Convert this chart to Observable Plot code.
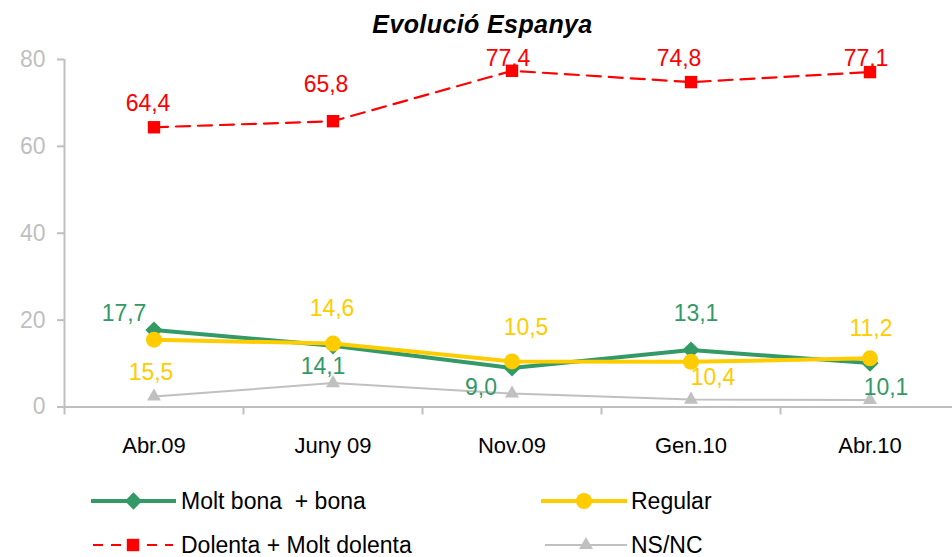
<!DOCTYPE html>
<html>
<head>
<meta charset="utf-8">
<script src="https://cdn.jsdelivr.net/npm/d3@7"></script>
<script src="https://cdn.jsdelivr.net/npm/@observablehq/plot@0.6"></script>
<style>
  html, body { margin: 0; padding: 0; background: #fff; overflow: hidden; }
  #wrap { position: relative; width: 952px; height: 557px; font-family: "Liberation Sans", Arial, sans-serif; }
  #title { position: absolute; left: 0; top: 0; width: 965px; text-align: center; font-weight: bold; font-style: italic; font-size: 25px; letter-spacing: 0.4px; line-height: 48px; color: #000; }
  #chart { position: absolute; left: 0; top: 42px; }
  .lg-text { position: absolute; font-size: 23px; line-height: 30px; color: #000; white-space: pre; }
  .lg-key { position: absolute; }
</style>
</head>
<body>
<div id="wrap">
  <div id="title">Evolució Espanya</div>
  <div id="chart"></div>
</div>
<script>
// ---- data ----
const categories = ["Abr.09", "Juny 09", "Nov.09", "Gen.10", "Abr.10"];
const seriesNames = ["Molt bona  + bona", "Regular", "Dolenta + Molt dolenta", "NS/NC"];
const moltBona = [17.7, 14.1, 9.0, 13.1, 10.1];
const regular = [15.5, 14.6, 10.5, 10.4, 11.2];
const dolenta = [64.4, 65.8, 77.4, 74.8, 77.1];
const nsnc = [2.4, 5.5, 3.1, 1.7, 1.6];
const yTicks = [0, 20, 40, 60, 80];

// ---- styles / layout (not data) ----
const styles = [
  {color: "#339966", width: 4, dash: null, symbol: "diamond2", r: 7.8, labels: true,
   off: [[-30, -16], [-10, 21], [-31, 20], [5, -36], [16, 24]]},
  {color: "#FFCC00", width: 4, dash: null, symbol: "circle", r: 8, labels: true,
   off: [[-3, 33], [-1, -35], [14, -34], [22, 16], [1, -30]]},
  {color: "#FF0000", width: 2.2, dash: "14,8", symbol: "square", r: 7, labels: true,
   off: [[-6, -24], [-7, -37], [-4, -12], [-12, -23], [-4, -13]]},
  {color: "#C0C0C0", width: 2, dash: null, symbol: "triangle", r: 5.2, labels: false, off: []}
];
const allValues = [moltBona, regular, dolenta, nsnc];

const rows = allValues.flatMap((vals, s) => vals.map((v, i) => ({s, i, v, cat: categories[i]})));
const fmt = v => v.toFixed(1).replace(".", ",");

const axisColor = "#bfbfbf";
const boundaries = d3.range(categories.length + 1).map(k => k - 0.5);

const marks = [
  Plot.ruleY([0], {stroke: axisColor, strokeWidth: 2}),
  Plot.ruleX([-0.5], {stroke: axisColor, strokeWidth: 2}),
  Plot.axisY({ticks: yTicks, tickSize: 7, tickPadding: 12, fontSize: 23, fill: axisColor, stroke: axisColor, strokeWidth: 2, label: null}),
  Plot.axisX({ticks: boundaries, tickSize: 8, tickFormat: () => "", stroke: axisColor, strokeWidth: 2, label: null}),
  Plot.axisX({ticks: d3.range(categories.length), tickSize: 0, tickPadding: 30, fontSize: 22, fill: "#000", tickFormat: i => categories[i], label: null})
];

styles.forEach((st, s) => {
  const data = rows.filter(d => d.s === s);
  marks.push(Plot.line(data, {x: "i", y: "v", stroke: st.color, strokeWidth: st.width, strokeDasharray: st.dash}));
  marks.push(Plot.dot(data, {x: "i", y: "v", symbol: () => st.symbol, r: st.r, fill: st.color, stroke: "none"}));
});
styles.forEach((st, s) => {
  if (!st.labels) return;
  rows.filter(d => d.s === s).forEach((d, k) => {
    marks.push(Plot.text([d], {x: "i", y: "v", text: d => fmt(d.v), fill: st.color, fontSize: 23,
      dx: st.off[k][0], dy: st.off[k][1]}));
  });
});

const chart = Plot.plot({
  width: 952,
  height: 428,
  marginLeft: 64,
  marginRight: -7,
  marginTop: 17,
  marginBottom: 63.5,
  x: {type: "linear", domain: [-0.5, categories.length - 0.5], range: [64, 959]},
  y: {domain: [0, 80]},
  symbol: {type: "identity"},
  style: {fontFamily: "'Liberation Sans', Arial, sans-serif", background: "white", overflow: "visible"},
  marks
});
document.getElementById("chart").appendChild(chart);

// ---- legend ----
const wrap = document.getElementById("wrap");
const legendPos = [
  {lineX: 91, lineW: 85, cy: 501, textX: 181},
  {lineX: 541, lineW: 86, cy: 501, textX: 631},
  {lineX: 93, lineW: 80, cy: 545, textX: 181},
  {lineX: 545, lineW: 82, cy: 545, textX: 631}
];
const symMap = {diamond2: d3.symbolDiamond2, circle: d3.symbolCircle, square: d3.symbolSquare, triangle: d3.symbolTriangle};
seriesNames.forEach((name, s) => {
  const st = styles[s], p = legendPos[s];
  const svg = d3.create("svg").attr("class", "lg-key").attr("width", p.lineW).attr("height", 24)
    .style("left", p.lineX + "px").style("top", (p.cy - 12) + "px");
  svg.append("line").attr("x1", 0).attr("x2", p.lineW).attr("y1", 12).attr("y2", 12)
    .attr("stroke", st.color).attr("stroke-width", st.width).attr("stroke-dasharray", st.dash ? "10,8" : null);
  svg.append("path").attr("transform", `translate(${p.lineW / 2},12)`)
    .attr("d", d3.symbol(symMap[st.symbol], Math.PI * st.r * st.r)()).attr("fill", st.color);
  wrap.appendChild(svg.node());
  const t = document.createElement("div");
  t.className = "lg-text";
  t.textContent = name;
  t.style.left = p.textX + "px";
  t.style.top = (p.cy - 14.7) + "px";
  wrap.appendChild(t);
});
</script>
</body>
</html>
